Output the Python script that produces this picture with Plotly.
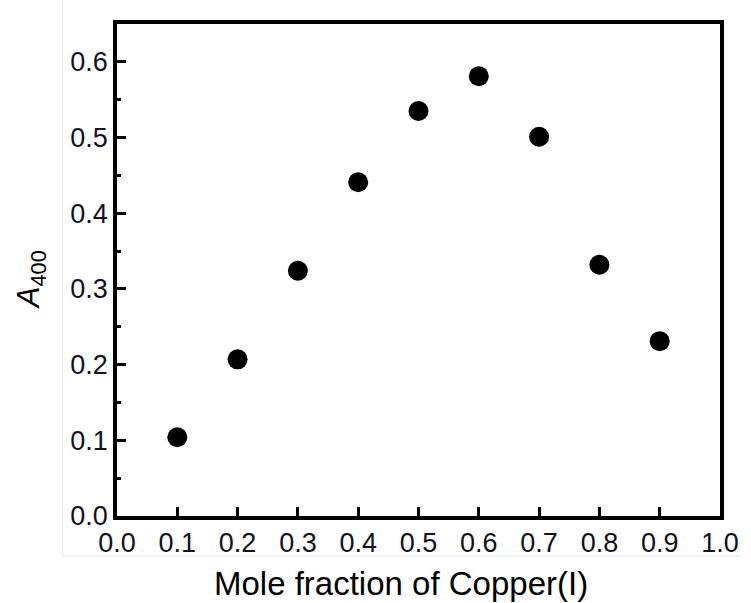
import plotly.graph_objects as go

mole_fraction = [0.1, 0.2, 0.3, 0.4, 0.5, 0.6, 0.7, 0.8, 0.9]
a400 = [0.104, 0.207, 0.324, 0.441, 0.535, 0.581, 0.501, 0.332, 0.231]
x_ticks = [0.0, 0.1, 0.2, 0.3, 0.4, 0.5, 0.6, 0.7, 0.8, 0.9, 1.0]
y_ticks = [0.0, 0.1, 0.2, 0.3, 0.4, 0.5, 0.6]

fig = go.Figure(go.Scatter(
    x=mole_fraction, y=a400, mode="markers",
    marker=dict(color="black", size=20, line=dict(width=0)),
))

W, H = 751, 603
L, R, T, B = 117, 23, 24, 87
pw, ph = W - L - R, H - T - B

def px_x(p):
    return (p - L) / pw

def px_y(p):
    return (T + ph - p) / ph

fig.update_layout(
    width=W, height=H,
    margin=dict(l=L, r=R, t=T, b=B),
    paper_bgcolor="white", plot_bgcolor="white",
    showlegend=False,
    font=dict(family="Liberation Sans, Arial, sans-serif", color="black"),
    xaxis=dict(
        range=[0, 1], tickvals=x_ticks, ticktext=[f"{v:.1f}" for v in x_ticks],
        ticks="inside", ticklen=9, tickwidth=3, tickcolor="black",
        showline=True, linewidth=3.5, linecolor="black", mirror=True,
        showgrid=False, zeroline=False,
        tickfont=dict(size=27, color="#111122"),
    ),
    yaxis=dict(
        range=[0, 0.65], tickvals=y_ticks, ticktext=[f"{v:.1f}" for v in y_ticks],
        ticks="inside", ticklen=9, tickwidth=3, tickcolor="black",
        minor=dict(dtick=0.05, ticks="inside", ticklen=4, tickwidth=3, tickcolor="black"),
        showline=True, linewidth=3.5, linecolor="black", mirror=True,
        showgrid=False, zeroline=False,
        tickfont=dict(size=27, color="#111122"),
    ),
    annotations=[
        dict(text="Mole fraction of Copper(I)", xref="paper", yref="paper",
             x=px_x(405), y=px_y(583), xanchor="center", yanchor="middle",
             showarrow=False, font=dict(size=33, color="black")),
        dict(text="<i>A</i><sub>400</sub>", xref="paper", yref="paper",
             x=px_x(30), y=px_y(280), xanchor="center", yanchor="middle",
             textangle=-90, showarrow=False, font=dict(size=31, color="black")),
    ],
    shapes=[
        dict(type="line", xref="paper", yref="paper",
             x0=px_x(62), x1=px_x(62), y0=px_y(0), y1=px_y(556),
             line=dict(color="#e6e6e6", width=1)),
        dict(type="line", xref="paper", yref="paper",
             x0=px_x(62), x1=px_x(W), y0=px_y(556), y1=px_y(556),
             line=dict(color="#e6e6e6", width=1)),
    ],
)

fig.write_html("out.html")
